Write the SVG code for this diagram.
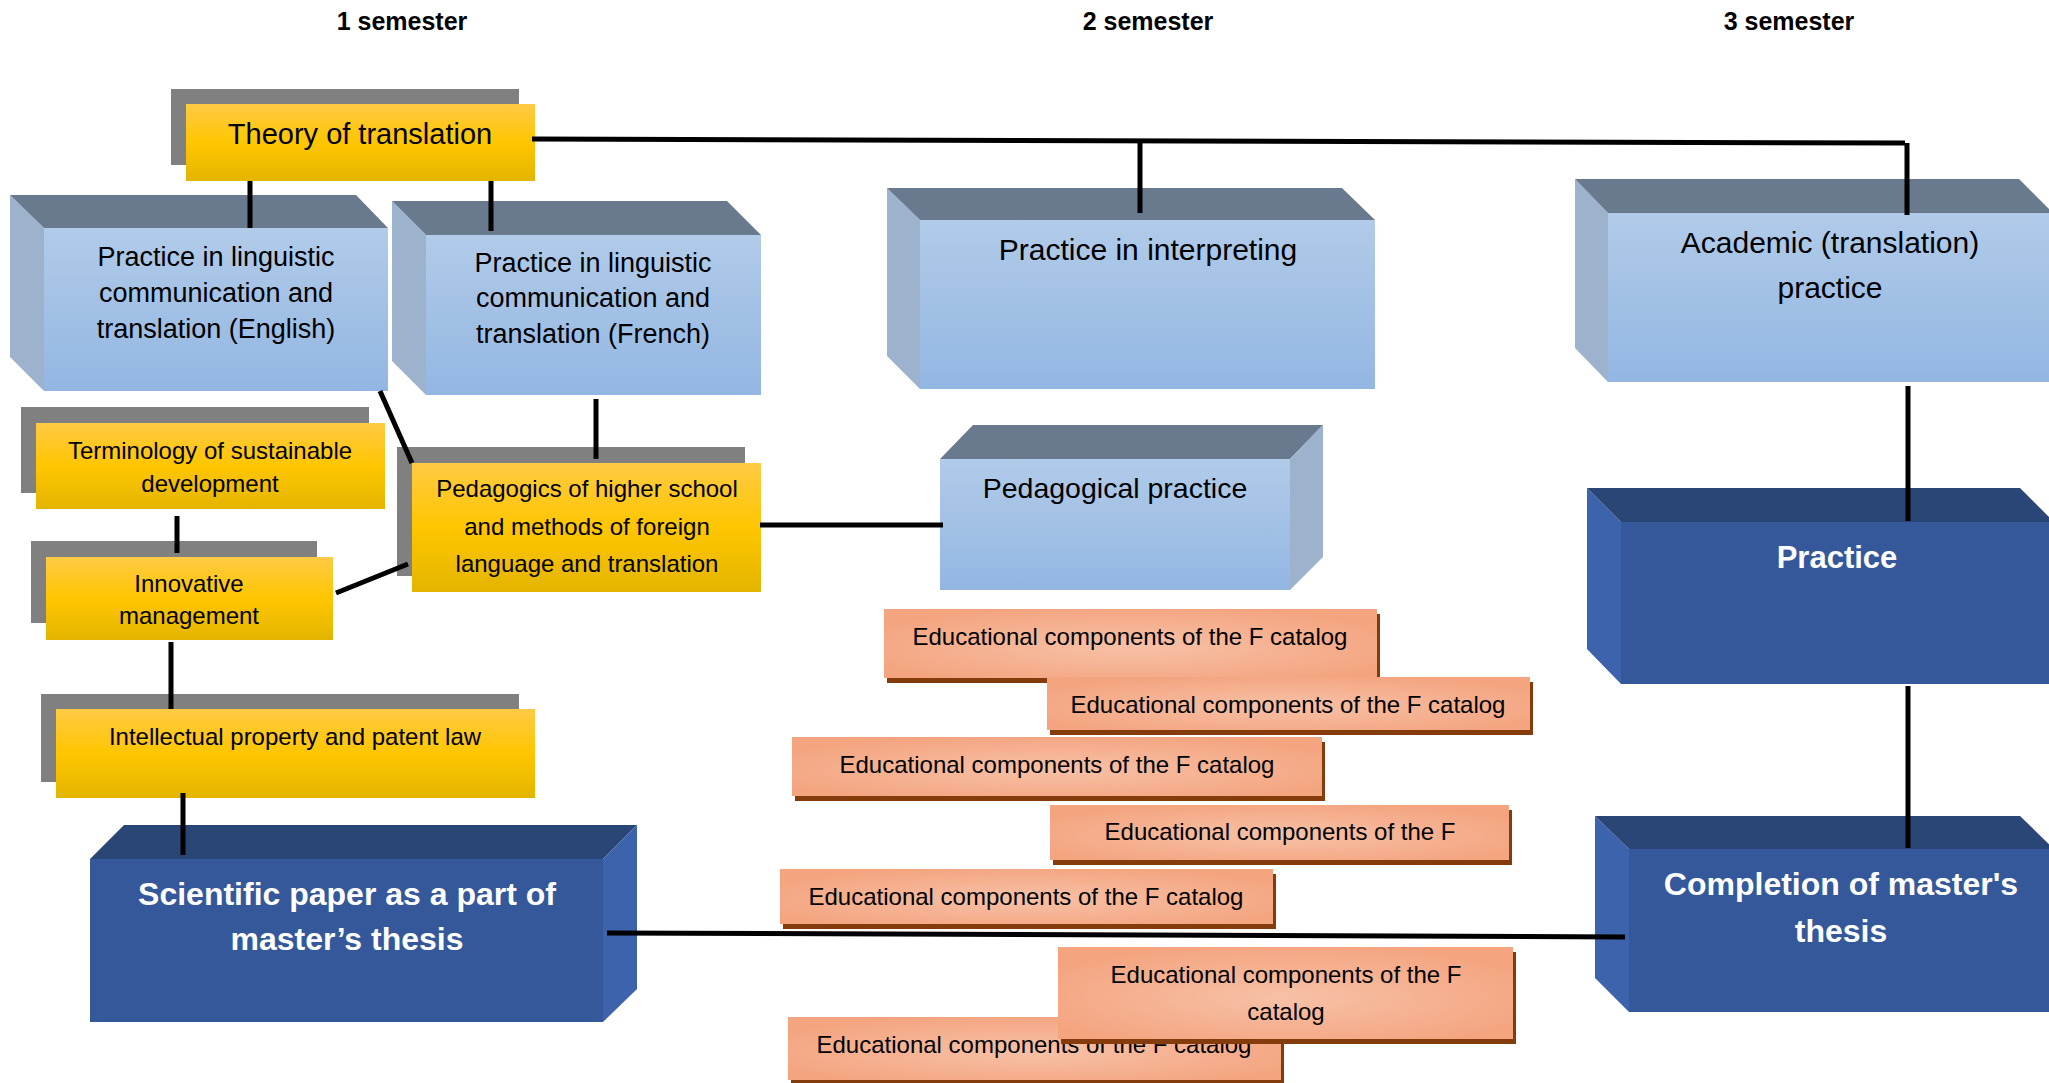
<svg xmlns="http://www.w3.org/2000/svg" width="2049" height="1083" viewBox="0 0 2049 1083">
<defs>
<linearGradient id="gold" x1="0" y1="0" x2="0" y2="1">
<stop offset="0" stop-color="#ffca45"/>
<stop offset="0.5" stop-color="#ffc600"/>
<stop offset="1" stop-color="#e3b500"/>
</linearGradient>
<linearGradient id="lblue" x1="0" y1="0" x2="0" y2="1">
<stop offset="0" stop-color="#b1cbe9"/>
<stop offset="1" stop-color="#93b6e2"/>
</linearGradient>
<radialGradient id="salmon" cx="0.5" cy="0.55" r="0.6">
<stop offset="0" stop-color="#f7c1a7"/>
<stop offset="1" stop-color="#f4a47f"/>
</radialGradient>
<style>
.t{font-family:"Liberation Sans",Arial,sans-serif;fill:#000;text-anchor:middle}
.hd{font-size:25px;font-weight:bold}
.wb{font-family:"Liberation Sans",Arial,sans-serif;fill:#fff;font-weight:bold;text-anchor:middle;font-size:32px}
.sh{fill:#808080}
.gold{fill:url(#gold)}
.ftop{fill:#697a8e}
.fside{fill:#9db2cd}
.ffront{fill:url(#lblue)}
.dtop{fill:#2a4677}
.dside{fill:#3c63ab}
.dfront{fill:#35589a}
.sal{fill:url(#salmon)}
.salsh{fill:#843c0c}
.s24{font-size:24px}
.s27{font-size:27px}
.s29{font-size:29px}
.s30{font-size:30px}
.conn{stroke:#000;stroke-width:5;fill:none}
</style>
</defs>
<rect width="2049" height="1083" fill="#fff"/>

<g id="headings">
<text class="t hd" x="402" y="30">1 semester</text>
<text class="t hd" x="1148" y="30">2 semester</text>
<text class="t hd" x="1789" y="30">3 semester</text>
</g>

<g id="theory">
<rect class="sh" x="171" y="89" width="348" height="76"/>
<rect class="gold" x="186" y="104" width="349" height="77"/>
<text class="t s29" x="360" y="144">Theory of translation</text>
</g>

<g id="english">
<polygon class="fside" points="10,195 44,228 44,391 10,357"/>
<polygon class="ftop" points="10,195 356,195 388,228 44,228"/>
<rect class="ffront" x="44" y="228" width="344" height="163"/>
<text class="t s27" x="216" y="266">Practice in linguistic</text>
<text class="t s27" x="216" y="302">communication and</text>
<text class="t s27" x="216" y="338">translation (English)</text>
</g>

<g id="french">
<polygon class="fside" points="392,201 426,235 426,395 392,361"/>
<polygon class="ftop" points="392,201 727,201 761,235 426,235"/>
<rect class="ffront" x="426" y="235" width="335" height="160"/>
<text class="t s27" x="593" y="272">Practice in linguistic</text>
<text class="t s27" x="593" y="307">communication and</text>
<text class="t s27" x="593" y="343">translation (French)</text>
</g>

<g id="interpreting">
<polygon class="fside" points="887,188 920,220 920,389 887,356"/>
<polygon class="ftop" points="887,188 1342,188 1375,220 920,220"/>
<rect class="ffront" x="920" y="220" width="455" height="169"/>
<text class="t s30" x="1148" y="260">Practice in interpreting</text>
</g>

<g id="academic">
<polygon class="fside" points="1575,179 1608,213 1608,382 1575,348"/>
<polygon class="ftop" points="1575,179 2019,179 2053,213 1608,213"/>
<rect class="ffront" x="1608" y="213" width="445" height="169"/>
<text class="t s30" x="1830" y="253">Academic (translation)</text>
<text class="t s30" x="1830" y="298">practice</text>
</g>

<g id="terminology">
<rect class="sh" x="21" y="407" width="348" height="86"/>
<rect class="gold" x="36" y="423" width="349" height="86"/>
<text class="t s24" x="210" y="459">Terminology of sustainable</text>
<text class="t s24" x="210" y="492">development</text>
</g>

<g id="innovative">
<rect class="sh" x="31" y="541" width="286" height="82"/>
<rect class="gold" x="46" y="557" width="287" height="83"/>
<text class="t s24" x="189" y="592">Innovative</text>
<text class="t s24" x="189" y="624">management</text>
</g>

<g id="pedagogics">
<rect class="sh" x="397" y="447" width="348" height="129"/>
<rect class="gold" x="412" y="463" width="349" height="129"/>
<text class="t s24" x="587" y="497">Pedagogics of higher school</text>
<text class="t s24" x="587" y="535">and methods of foreign</text>
<text class="t s24" x="587" y="572">language and translation</text>
</g>

<g id="intellectual">
<rect class="sh" x="41" y="694" width="478" height="88"/>
<rect class="gold" x="56" y="709" width="479" height="89"/>
<text class="t s24" x="295" y="745">Intellectual property and patent law</text>
</g>

<g id="pedagogical-practice">
<polygon class="ftop" points="973,425 1323,425 1290,459 940,459"/>
<polygon class="fside" points="1290,459 1323,425 1323,557 1290,590"/>
<rect class="ffront" x="940" y="459" width="350" height="131"/>
<text class="t" style="font-size:28.5px" x="1115" y="498">Pedagogical practice</text>
</g>

<g id="scientific">
<polygon class="dtop" points="124,825 637,825 603,859 90,859"/>
<polygon class="dside" points="603,859 637,825 637,989 603,1022"/>
<rect class="dfront" x="90" y="859" width="513" height="163"/>
<text class="wb" x="347" y="905">Scientific paper as a part of</text>
<text class="wb" x="347" y="950">master’s thesis</text>
</g>

<g id="practice">
<polygon class="dside" points="1587,488 1621,522 1621,684 1587,649"/>
<polygon class="dtop" points="1587,488 2020,488 2054,522 1621,522"/>
<rect class="dfront" x="1621" y="522" width="433" height="162"/>
<text class="wb" style="font-size:31px" x="1837" y="568">Practice</text>
</g>

<g id="completion">
<polygon class="dside" points="1595,816 1629,849 1629,1012 1595,978"/>
<polygon class="dtop" points="1595,816 2020,816 2054,849 1629,849"/>
<rect class="dfront" x="1629" y="849" width="425" height="163"/>
<text class="wb" x="1841" y="895">Completion of master's</text>
<text class="wb" x="1841" y="942">thesis</text>
</g>

<g id="ec1">
<rect class="salsh" x="887" y="614" width="493" height="69"/>
<rect class="sal" x="884" y="609" width="493" height="69"/>
<text class="t s24" x="1130" y="645">Educational components of the F catalog</text>
</g>
<g id="ec2">
<rect class="salsh" x="1050" y="682" width="483" height="53"/>
<rect class="sal" x="1047" y="677" width="483" height="53"/>
<text class="t s24" x="1288" y="713">Educational components of the F catalog</text>
</g>
<g id="ec3">
<rect class="salsh" x="795" y="742" width="530" height="59"/>
<rect class="sal" x="792" y="737" width="530" height="59"/>
<text class="t s24" x="1057" y="773">Educational components of the F catalog</text>
</g>
<g id="ec4">
<rect class="salsh" x="1053" y="810" width="459" height="55"/>
<rect class="sal" x="1050" y="805" width="459" height="55"/>
<text class="t s24" x="1280" y="840">Educational components of the F</text>
</g>
<g id="ec5">
<rect class="salsh" x="783" y="874" width="493" height="55"/>
<rect class="sal" x="780" y="869" width="493" height="55"/>
<text class="t s24" x="1026" y="905">Educational components of the F catalog</text>
</g>
<g id="ec7">
<rect class="salsh" x="791" y="1022" width="493" height="63"/>
<rect class="sal" x="788" y="1017" width="493" height="63"/>
<text class="t s24" x="1034" y="1053">Educational components of the F catalog</text>
</g>
<g id="ec6">
<rect class="salsh" x="1061" y="952" width="455" height="92"/>
<rect class="sal" x="1058" y="947" width="455" height="92"/>
<text class="t s24" x="1286" y="983">Educational components of the F</text>
<text class="t s24" x="1286" y="1020">catalog</text>
</g>

<g id="connectors" class="conn">
<path d="M250,181 V228"/>
<path d="M491,181 V231"/>
<path d="M380,391 L412,463"/>
<path d="M596,399 V459"/>
<path d="M177,516 V553"/>
<path d="M336,593 L408,564"/>
<path d="M171,642 V709"/>
<path d="M183,793 V855"/>
<path d="M760,525 H943"/>
<path d="M532,139 L1905,143"/>
<path d="M1140,140 V213"/>
<path d="M1907,143 V215"/>
<path d="M1908,386 V521"/>
<path d="M1908,686 V848"/>
<path d="M607,933 L1625,937"/>
</g>
</svg>
